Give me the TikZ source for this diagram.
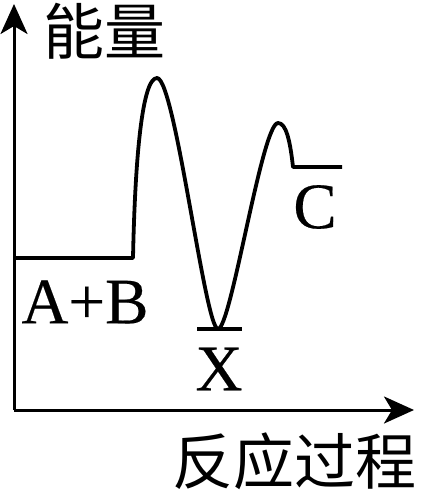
\documentclass[tikz,border=0pt]{standalone}
\usepackage{fontspec}
\setmainfont{Liberation Serif}
\newfontfamily\heavyserif[FakeBold=0.3]{Liberation Serif}
\newfontfamily\cjk{Noto Sans CJK SC}
\usetikzlibrary{arrows.meta}
\begin{document}
\begin{tikzpicture}[x=1pt,y=-1pt,
    axis/.style={line width=3pt,-{Stealth[length=30pt,width=27pt,inset=8pt]}},
    curve/.style={line width=3.8pt,line join=round},
    cjklabel/.style={inner sep=0pt,font=\cjk\fontsize{61}{61}\selectfont},
    letter/.style={inner sep=0pt,font=\heavyserif\fontsize{65}{65}\selectfont}]
  \useasboundingbox (0,0) rectangle (420,494);
  \coordinate (O) at (14,410);
  \coordinate (ytip) at (14,4);
  \coordinate (xtip) at (414,410);
  \draw[axis] (O) -- (ytip);
  \draw[axis] (O) -- (xtip);
  \node[cjklabel] (energy) at (104,31) {能量};
  \node[cjklabel] (process) at (294,461) {反应过程};
  % energy curve
  \draw[curve] (14,258) -- (133,258)
    .. controls (135,160) and (142,78) .. (157,78)
    .. controls (175,78) and (205,329) .. (218,329)
    .. controls (231,329) and (262,123) .. (278,123)
    .. controls (286,123) and (290,140) .. (293,167) -- (342,167);
  \draw[curve] (197,329) -- (242,329);
  \node[letter] (AB) at (85,302) {A+B};
  \node[letter] (X) at (219,369) {X};
  \node[letter] (C) at (315,207) {C};
\end{tikzpicture}
\end{document}
